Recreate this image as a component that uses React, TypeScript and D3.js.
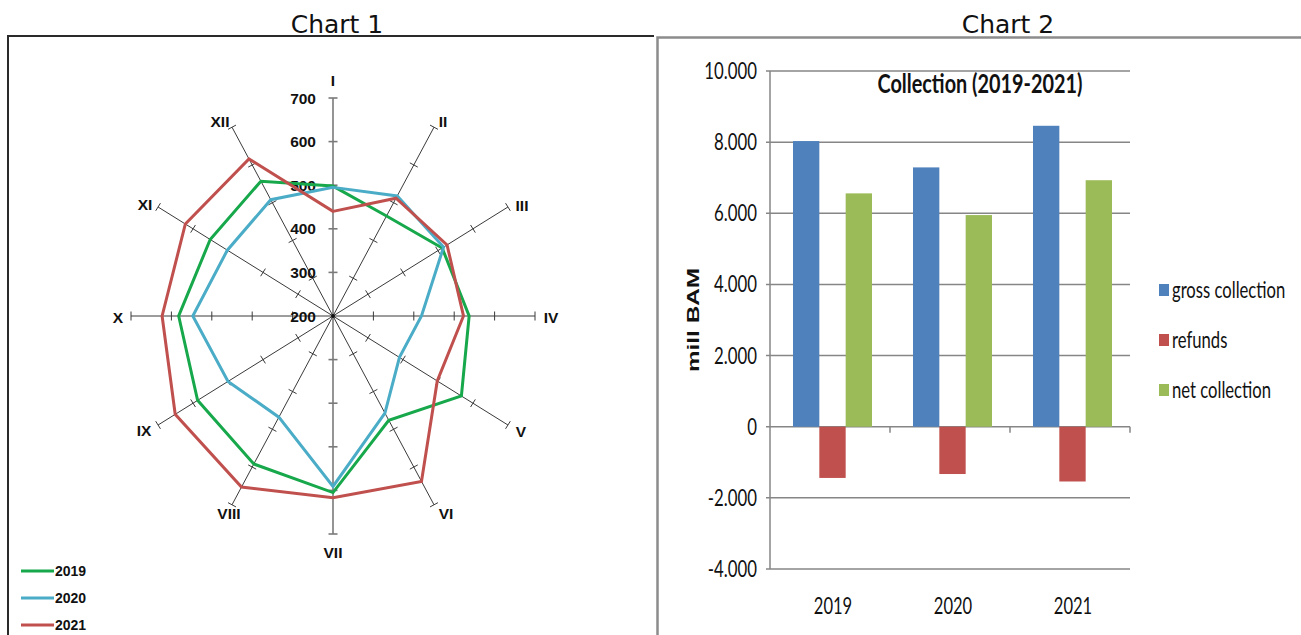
import React from "react";
import * as d3 from "d3";

// ---- Chart 1: monthly radar ----
const months = ["I", "II", "III", "IV", "V", "VI", "VII", "VIII", "IX", "X", "XI", "XII"];
const radarTicks = [300, 400, 500, 600, 700];
const radarLabelTicks = [200, 300, 400, 500, 600, 700];
const series2019 = [498, 465, 512, 537, 567, 476, 605, 592, 587, 582, 551, 557];
const series2020 = [495, 518, 516, 419, 390, 457, 591, 468, 500, 547, 502, 508];
const series2021 = [440, 512, 526, 523, 498, 638, 617, 653, 651, 623, 622, 616];
const radarSeries = [
  { name: "2019", values: series2019, color: "#17a84b" },
  { name: "2020", values: series2020, color: "#4aacc6" },
  { name: "2021", values: series2021, color: "#c0504d" },
];

// ---- Chart 2: collection bars ----
const years = ["2019", "2020", "2021"];
const grossCollection = [8030, 7290, 8460];
const refunds = [-1440, -1330, -1540];
const netCollection = [6560, 5950, 6930];
const barSeries = [
  { name: "gross collection", values: grossCollection, color: "#4f81bd" },
  { name: "refunds", values: refunds, color: "#c0504d" },
  { name: "net collection", values: netCollection, color: "#9bbb59" },
];
const barTicks = [-4000, -2000, 0, 2000, 4000, 6000, 8000, 10000];

const locale = d3.formatLocale({ decimal: ",", thousands: ".", grouping: [3], currency: ["", ""], minus: "-" });
const fmt = locale.format(",");

const arial = "'Liberation Sans', Arial, sans-serif";
const calibri = "Lato, 'Open Sans', sans-serif";

function Radar() {
  const cx = 333;
  const cy = 316;
  const RX = 202;
  const RY = 218;
  const r = d3.scaleLinear().domain([200, 700]).range([0, 1]);
  const angle = (i: number) => (i * Math.PI) / 6;
  const pt = (i: number, v: number): [number, number] => {
    const a = angle(i);
    return [cx + r(v) * Math.sin(a) * RX, cy - r(v) * Math.cos(a) * RY];
  };
  const line = d3.line<number>().x((v, i) => pt(i, v)[0]).y((v, i) => pt(i, v)[1]).curve(d3.curveLinearClosed);

  const labelPos = [
    [333, 80], [443, 121], [522, 205], [551, 317], [521, 431], [446, 513],
    [333, 552], [229, 513], [144, 430], [118, 317], [145, 204], [220, 121],
  ];

  return (
    <g>
      {months.map((m, i) => {
        const [x2, y2] = pt(i, 700);
        const dx = x2 - cx;
        const dy = y2 - cy;
        const len = Math.hypot(dx, dy);
        const nx = -dy / len;
        const ny = dx / len;
        const vertical = i === 0 || i === 6;
        return (
          <g key={m}>
            <line x1={cx} y1={cy} x2={x2} y2={y2} stroke={vertical ? "#7a7a7a" : "#3a3a3a"} strokeWidth={vertical ? 1.6 : 1} />
            {radarTicks.map((t) => {
              const [tx, ty] = pt(i, t);
              const h = 4.5;
              return (
                <line key={t} x1={tx - nx * h} y1={ty - ny * h} x2={tx + nx * h} y2={ty + ny * h}
                  stroke={vertical ? "#7a7a7a" : "#3a3a3a"} strokeWidth={vertical ? 1.6 : 1} />
              );
            })}
          </g>
        );
      })}
      {radarLabelTicks.map((t) => (
        <text key={t} x={316} y={pt(0, t)[1] + 5.5} textAnchor="end" fontFamily={arial} fontWeight="bold" fontSize={15.5} fill="#111">
          {t}
        </text>
      ))}
      <circle cx={cx} cy={cy} r={2} fill="#111" />
      {radarSeries.map((s) => (
        <path key={s.name} d={line(s.values) || ""} fill="none" stroke={s.color} strokeWidth={3} strokeLinejoin="miter" />
      ))}
      {months.map((m, i) => (
        <text key={m} x={labelPos[i][0]} y={labelPos[i][1] + 5.5} textAnchor="middle" fontFamily={arial} fontWeight="bold" fontSize={15.5} fill="#111">
          {m}
        </text>
      ))}
      {radarSeries.map((s, k) => (
        <g key={s.name} transform={`translate(21, ${571 + k * 27})`}>
          <line x1={0} x2={33} y1={0} y2={0} stroke={s.color} strokeWidth={3} />
          <text x={34} y={5} fontFamily={arial} fontWeight="bold" fontSize={14} fill="#111">{s.name}</text>
        </g>
      ))}
    </g>
  );
}

function Bars() {
  const left = 770;
  const right = 1130;
  const x0 = d3.scaleBand().domain(years).range([left, right]).padding(0);
  const x1 = d3.scaleBand().domain(barSeries.map((s) => s.name)).range([23, 102]).padding(0);
  const y = d3.scaleLinear().domain([-4000, 10000]).range([569, 71]);
  const grid = "#868686";
  return (
    <g>
      {barTicks.map((t) => (
        <g key={t}>
          <line x1={left - 4} x2={right} y1={y(t)} y2={y(t)} stroke={grid} strokeWidth={1.5} />
          <g transform={`translate(757, ${y(t) + 8}) scale(0.7,1)`}>
            <text textAnchor="end" fontFamily={calibri} fontSize={24} fill="#111">{fmt(t)}</text>
          </g>
        </g>
      ))}
      <line x1={left} x2={left} y1={y(10000)} y2={y(-4000)} stroke={grid} strokeWidth={1.5} />
      {years.map((yr) => (
        <line key={yr} x1={(x0(yr) || 0) + x0.bandwidth()} x2={(x0(yr) || 0) + x0.bandwidth()} y1={y(0)} y2={y(0) + 6} stroke={grid} strokeWidth={1.5} />
      ))}
      {barSeries.map((s) =>
        years.map((yr, i) => {
          const v = s.values[i];
          const bx = (x0(yr) || 0) + (x1(s.name) || 0);
          return (
            <rect key={s.name + yr} x={bx} width={x1.bandwidth()} y={Math.min(y(v), y(0))} height={Math.abs(y(v) - y(0))} fill={s.color} />
          );
        })
      )}
      {years.map((yr) => (
        <g key={yr} transform={`translate(${(x0(yr) || 0) + x0.bandwidth() / 2 + 3}, 614) scale(0.72,1)`}>
          <text textAnchor="middle" fontFamily={calibri} fontSize={23} fill="#111">{yr}</text>
        </g>
      ))}
      <text x={980} y={93} textAnchor="middle" fontFamily={calibri} fontSize={26} fontWeight="bold" fill="#111"
        textLength={205} lengthAdjust="spacingAndGlyphs">
        Collection (2019-2021)
      </text>
      <text transform="translate(699, 320) rotate(-90)" textAnchor="middle" fontFamily={arial} fontWeight="bold" fontSize={17} fill="#111"
        textLength={104} lengthAdjust="spacingAndGlyphs">
        mill BAM
      </text>
      {barSeries.map((s, k) => (
        <g key={s.name} transform={`translate(1159, ${290 + k * 50})`}>
          <rect x={0} y={-6} width={10} height={12} fill={s.color} />
          <g transform="translate(13, 7.5) scale(0.74,1)">
            <text fontFamily={calibri} fontSize={22.5} fill="#111">{s.name}</text>
          </g>
        </g>
      ))}
    </g>
  );
}

export default function App() {
  return (
    <svg width={1301} height={635} style={{ position: "absolute", left: 0, top: 0, background: "#fff" }}>
      <rect x={0} y={0} width={1301} height={635} fill="#fff" />
      <text x={337} y={33} textAnchor="middle" fontFamily="'DejaVu Sans', Verdana, sans-serif" fontSize={25} fill="#111">Chart 1</text>
      <text x={1008} y={33} textAnchor="middle" fontFamily="'DejaVu Sans', Verdana, sans-serif" fontSize={25} fill="#111">Chart 2</text>
      <path d="M8,640 V36 H654" fill="none" stroke="#2a2a2a" strokeWidth={2} />
      <path d="M657.5,640 V37.5 H1305" fill="none" stroke="#8c8c8c" strokeWidth={2.5} />
      <Radar />
      <Bars />
    </svg>
  );
}
